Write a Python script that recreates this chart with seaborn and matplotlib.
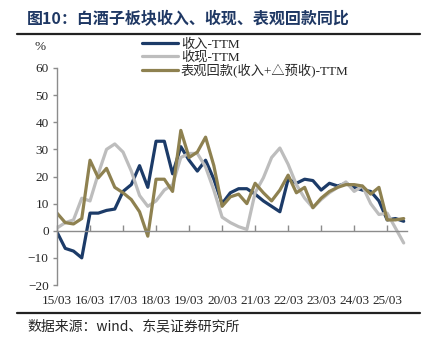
import numpy as np
import pandas as pd
import matplotlib
matplotlib.use("Agg")
import matplotlib.pyplot as plt
import seaborn as sns
from matplotlib.lines import Line2D

# ---------------- data ----------------
tick_labels = ["15/03", "16/03", "17/03", "18/03", "19/03", "20/03",
               "21/03", "22/03", "23/03", "24/03", "25/03"]

revenue = [-0.5, -6.5, -7.5, -10, 6.5, 6.5, 7.5, 8, 14.5, 17, 24, 16, 33, 33, 21,
           31, 26, 22, 26, 19, 10, 14, 15.5, 15.5, 13.5, 11, 9, 7, 19, 17.5, 19,
           18.5, 15, 17.5, 16.5, 17.5, 16, 15, 14.5, 11, 4, 4.5, 3.5]
cash = [1, 3, 4, 12, 11, 21, 30, 32, 29, 22, 13, 9, 11, 15, 17, 27, 28.5, 28.5,
        23.5, 15, 5, 3, 1.5, 0.5, 14, 19.5, 27, 30.5, 24.5, 17, 12, 8.5, 11.5, 14,
        16, 18, 14.5, 16.5, 10, 6, 6.5, 1, -4.5]
apparent = [6.5, 3, 2.5, 4.5, 26, 19.5, 23, 16, 14, 11.5, 7, -2, 19, 19, 14.5,
            37, 27, 29, 34.5, 24, 9, 12.5, 13.5, 10, 17.5, 14, 11, 15, 20.5, 14,
            16, 8.5, 12, 14.5, 16, 17, 17, 16.5, 13.5, 16, 4, 4, 4.5]

series_names = ["收入-TTM", "收现-TTM", "表观回款(收入+△预收)-TTM"]
colors = ["#1C3B68", "#BDBDBD", "#8E8150"]

quarters = np.arange(len(revenue))
df = pd.DataFrame({
    "q": np.concatenate([quarters] * 3),
    "v": revenue + cash + apparent,
    "s": [series_names[0]] * len(revenue) + [series_names[1]] * len(cash)
         + [series_names[2]] * len(apparent),
})

# ---------------- figure ----------------
sns.set_style("white")
plt.rcParams["font.family"] = ["Liberation Serif", "Noto Sans CJK SC", "DejaVu Sans"]

W, H = 433, 337
fig = plt.figure(figsize=(W / 100, H / 100), dpi=100)
ax = fig.add_axes([57 / W, 1 - 285 / H, (407 - 57) / W, (285 - 68) / H])

sns.lineplot(data=df, x="q", y="v", hue="s", palette=dict(zip(series_names, colors)),
             hue_order=series_names, linewidth=2.3, ax=ax, legend=False,
             solid_joinstyle="round", solid_capstyle="round")

ax.set_xlim(0, 42.4)
ax.set_ylim(-20, 60)
ax.set_yticks(range(-20, 61, 10))
ax.set_xticks(np.arange(0, 41, 4))
ax.set_xticklabels(tick_labels)
ax.set_xlabel("")
ax.set_ylabel("")

for sp in ["top", "right"]:
    ax.spines[sp].set_visible(False)
ax.spines["left"].set_color("#8C8C8C")
ax.spines["left"].set_linewidth(1.0)
ax.spines["bottom"].set_position(("data", 0))
ax.spines["bottom"].set_color("#8C8C8C")
ax.spines["bottom"].set_linewidth(1.0)

ax.tick_params(axis="y", direction="out", length=3, width=1, color="#8C8C8C",
               pad=3, labelsize=9.5, left=True)
ax.tick_params(axis="x", direction="in", length=4, width=1, color="#8C8C8C",
               pad=46, labelsize=9.5, bottom=True)
for lab in ax.get_xticklabels() + ax.get_yticklabels():
    lab.set_fontfamily(["Liberation Serif", "DejaVu Sans"])

# legend
handles = [Line2D([0], [0], color=c, lw=2.3) for c in colors]
fig.legend(handles, series_names, loc="upper left",
           bbox_to_anchor=(142 / W, 1 - 38.5 / H), frameon=False,
           handlelength=2.7, handletextpad=0.25,
           labelspacing=0.0, borderpad=0, borderaxespad=0,
           prop={"family": ["Liberation Serif", "Noto Sans CJK SC"], "size": 9.5})

# percent label
fig.text(40 / W, 1 - 47 / H, "%", ha="center", va="center", fontsize=9.5,
         family=["Liberation Serif", "DejaVu Sans"])

# title and rules
fig.text(27 / W, 1 - 19 / H, "图10：白酒子板块收入、收现、表观回款同比",
         ha="left", va="center", fontsize=11.5, fontweight="bold",
         color="#1F3864", family=["Noto Sans CJK SC", "DejaVu Sans"])
fig.add_artist(Line2D([17 / W, 420 / W], [1 - 34 / H, 1 - 34 / H],
                      color="#222222", lw=1.6, transform=fig.transFigure))
fig.add_artist(Line2D([17 / W, 420 / W], [1 - 313 / H, 1 - 313 / H],
                      color="#222222", lw=1.6, transform=fig.transFigure))
fig.text(27 / W, 1 - 326 / H, "数据来源：wind、东吴证券研究所",
         ha="left", va="center", fontsize=10,
         family=["Noto Sans CJK SC", "DejaVu Sans"])

fig.savefig("out.png", dpi=100)
